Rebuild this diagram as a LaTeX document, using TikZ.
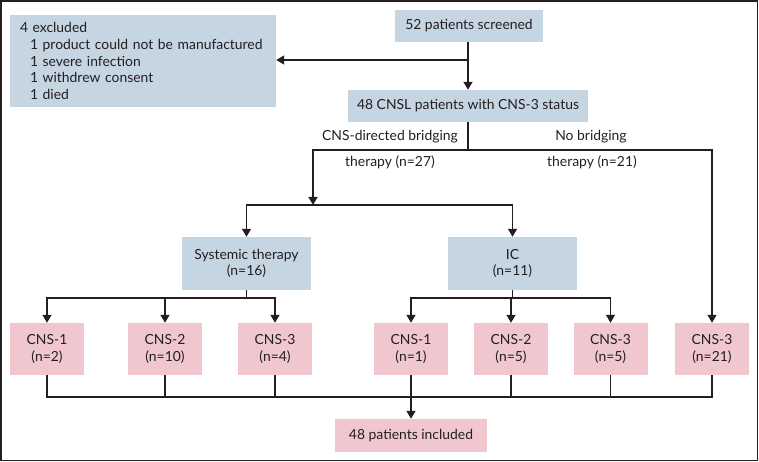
\documentclass[tikz,border=0pt]{standalone}
\usepackage{fontspec}
\setmainfont{Lato}
\usetikzlibrary{arrows.meta}
\definecolor{boxblue}{RGB}{197,213,226}
\definecolor{boxpink}{RGB}{240,199,206}
\definecolor{ink}{RGB}{35,31,32}
\begin{document}
\begin{tikzpicture}[x=1pt,y=-1pt,
  every node/.style={font=\fontsize{13.9}{16.6}\selectfont, text=ink},
  bluebox/.style={fill=boxblue, draw=none, align=center, inner sep=0pt},
  pinkbox/.style={fill=boxpink, draw=none, align=center, inner sep=0pt, minimum width=74pt, minimum height=52pt},
  conn/.style={draw=ink, line width=1.4pt},
  arr/.style={conn, -{Triangle[width=9pt,length=8pt]}},
  lbl/.style={inner sep=0pt}
]
\useasboundingbox (0,0) rectangle (759,462);
\draw[ink, line width=1.5pt] (1,1) rectangle (757.5,460.5);

\node[bluebox, minimum width=266pt, minimum height=92pt, text width=246pt, align=left, inner xsep=10pt] (excl) at (143,61)
  {4 excluded\\
   \hspace*{10pt}1 product could not be manufactured\\
   \hspace*{10pt}1 severe infection\\
   \hspace*{10pt}1 withdrew consent\\
   \hspace*{10pt}1 died};
\node[bluebox, minimum width=148pt, minimum height=32pt] (scr) at (469,26) {52 patients screened};
\node[bluebox, minimum width=240pt, minimum height=32pt] (cnsl) at (468,106) {48 CNSL patients with CNS-3 status};

\node[lbl] (la1) at (390,137) {CNS-directed bridging};
\node[lbl] (la2) at (390,162) {therapy (n=27)};
\node[lbl] (lb1) at (591,137) {No bridging};
\node[lbl] (lb2) at (592,162) {therapy (n=21)};

\node[bluebox, minimum width=129pt, minimum height=53pt] (sys) at (246.5,263.5) {Systemic therapy\\(n=16)};
\node[bluebox, minimum width=129pt, minimum height=53pt] (ic) at (512.5,263.5) {IC\\(n=11)};

\node[pinkbox] (c1) at (47,349) {CNS-1\\(n=2)};
\node[pinkbox] (c2) at (165,349) {CNS-2\\(n=10)};
\node[pinkbox] (c3) at (275,349) {CNS-3\\(n=4)};
\node[pinkbox] (c4) at (411,349) {CNS-1\\(n=1)};
\node[pinkbox] (c5) at (511,349) {CNS-2\\(n=5)};
\node[pinkbox] (c6) at (610.5,349) {CNS-3\\(n=5)};
\node[pinkbox] (c7) at (712,349) {CNS-3\\(n=21)};

\node[fill=boxpink, inner sep=0pt, minimum width=152pt, minimum height=33pt] (incl) at (411,435.5) {48 patients included};

% connectors
\draw[arr] (cnsl.north |- scr.south) -- (cnsl.north);
\draw[arr] (cnsl.north |- 0,60) -- (excl.east |- 0,60);

\coordinate (s1) at (468,150);
\coordinate (b) at (313,205);
\draw[conn] (cnsl.south) -- (s1);
\draw[arr] (s1) -| (b);
\draw[arr] (s1) -| (c7.north);
\draw[arr] (b) -| (sys.north);
\draw[arr] (b) -| (ic.north);

\coordinate (t1) at (246.5,298);
\coordinate (t2) at (512.5,298);
\draw[conn] (sys.south) -- (t1);
\draw[arr] (t1) -| (c1.north);
\draw[arr] (t1) -| (c2.north);
\draw[arr] (t1) -| (c3.north);
\draw[conn] (ic.south) -- (t2);
\draw[arr] (t2) -| (c4.north);
\draw[arr] (t2) -| (c5.north);
\draw[arr] (t2) -| (c6.north);

\coordinate (m) at (411,397);
\draw[conn] (c1.south) |- (m) -| (c7.south);
\draw[conn] (c2.south) -- (c2.south |- m);
\draw[conn] (c3.south) -- (c3.south |- m);
\draw[conn] (c5.south) -- (c5.south |- m);
\draw[conn] (c6.south) -- (c6.south |- m);
\draw[arr] (c4.south) -- (incl.north);
\end{tikzpicture}
\end{document}
